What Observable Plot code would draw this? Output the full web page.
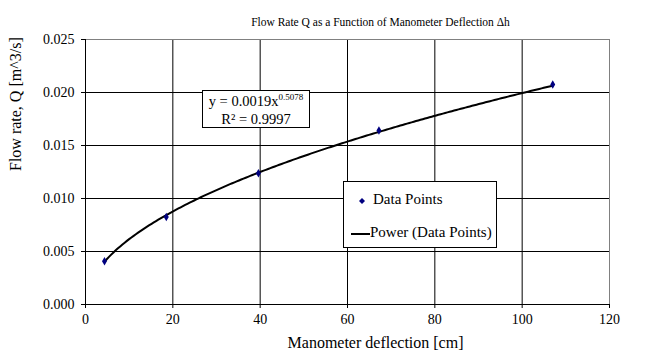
<!DOCTYPE html>
<html>
<head>
<meta charset="utf-8">
<script src="https://cdn.jsdelivr.net/npm/d3@7"></script>
<script src="https://cdn.jsdelivr.net/npm/@observablehq/plot@0.6"></script>
<style>
  html, body { margin: 0; padding: 0; background: #fff; }
  #wrap { position: relative; width: 654px; height: 364px; font-family: "Liberation Serif", serif; }
  #wrap svg, #wrap svg text { font-family: "Liberation Serif", serif !important; }
  .box { position: absolute; background: #fff; border: 1px solid #000; box-sizing: border-box; color: #000; }
  #eq { left: 202px; top: 90px; width: 108px; height: 38px; font-size: 14.5px; text-align: center; line-height: 16px; padding-top: 2px; }
  #eq sup { font-size: 9px; vertical-align: 0; position: relative; top: -6px; }
  #legend { left: 343px; top: 181px; width: 154px; height: 67px; font-size: 15px; }
  .row { position: absolute; left: 0; height: 16px; line-height: 16px; white-space: nowrap; }
</style>
</head>
<body>
<div id="wrap"></div>
<script>
// ---- data ----
const deflection = [4.35, 18.5, 39.6, 67.2, 107.0];        // cm
const flowRate   = [0.00408, 0.00826, 0.01239, 0.01642, 0.02075]; // m^3/s
const xTicks = [0, 20, 40, 60, 80, 100, 120];
const yTicks = [0, 0.005, 0.010, 0.015, 0.020, 0.025];
const titleText = "Flow Rate Q as a Function of Manometer Deflection \u0394h";
const xLabel = "Manometer deflection [cm]";
const yLabel = "Flow rate, Q [m^3/s]";
const eqLine1 = "y = 0.0019x";
const eqExp = "0.5078";
const eqLine2 = "R\u00B2 = 0.9997";
const legendLabels = ["Data Points", "Power (Data Points)"];

const points = deflection.map((d, i) => ({x: d, y: flowRate[i]}));

// power trendline fitted to the data points (least squares in log space)
const lx = deflection.map(Math.log), ly = flowRate.map(Math.log);
const mx = d3.mean(lx), my = d3.mean(ly);
const b = d3.sum(lx, (v, i) => (v - mx) * (ly[i] - my)) / d3.sum(lx, v => (v - mx) ** 2);
const a = Math.exp(my - b * mx);
const [x0, x1] = d3.extent(deflection);
const trend = d3.range(0, 201).map(i => {
  const x = x0 + (x1 - x0) * i / 200;
  return {x, y: a * Math.pow(x, b)};
});

const plot = Plot.plot({
  width: 654,
  height: 364,
  marginLeft: 85,
  marginRight: 45,
  marginTop: 39,
  marginBottom: 60,
  style: {fontSize: "13px", background: "#fff", color: "#000"},
  x: {domain: [0, 120], ticks: xTicks},
  y: {domain: [0, 0.025], ticks: yTicks},
  marks: [
    Plot.ruleX(xTicks.slice(1, -1), {stroke: "#000", strokeWidth: 1}),
    Plot.ruleY(yTicks.slice(1, -1), {stroke: "#000", strokeWidth: 1}),
    Plot.ruleX([120], {stroke: "#808080", strokeWidth: 1}),
    Plot.ruleY([0.025], {stroke: "#808080", strokeWidth: 1}),
    Plot.ruleX([0], {stroke: "#000", strokeWidth: 1}),
    Plot.ruleY([0], {stroke: "#000", strokeWidth: 1}),
    Plot.axisX({ticks: xTicks, tickSize: 4, tickPadding: 6, tickFormat: d3.format("d"), label: null, fontSize: 14}),
    Plot.axisY({ticks: yTicks, tickSize: 4, tickPadding: 7, tickFormat: d3.format(".3f"), label: null, fontSize: 14}),
    Plot.line(trend, {x: "x", y: "y", stroke: "#000", strokeWidth: 2}),
    Plot.dot(points, {x: "x", y: "y", symbol: "diamond", r: 2.6, fill: "#000080", stroke: "none"}),
    Plot.text([titleText], {frameAnchor: "top", dy: -22, dx: 33, fontSize: 11.5, fill: "#000"}),
    Plot.text([xLabel], {frameAnchor: "bottom", dy: 43, dx: 28, fontSize: 16, fill: "#000"}),
    Plot.text([yLabel], {frameAnchor: "left", dx: -70, dy: -1, rotate: -90, fontSize: 16, fill: "#000"})
  ]
});

const wrap = document.getElementById("wrap");
wrap.appendChild(plot);

// equation box
const eq = document.createElement("div");
eq.className = "box"; eq.id = "eq";
eq.innerHTML = `${eqLine1}<sup>${eqExp}</sup><br>${eqLine2}`;
wrap.appendChild(eq);

// legend box
const lg = document.createElement("div");
lg.className = "box"; lg.id = "legend";
const r1 = document.createElement("div");
r1.className = "row"; r1.style.top = "9px"; r1.style.left = "12px";
r1.innerHTML = `<svg width="12" height="10" style="vertical-align:middle;margin-right:5px"><path d="M6,2 L9,5 L6,8 L3,5 Z" fill="#000080"/></svg>${legendLabels[0]}`;
const r2 = document.createElement("div");
r2.className = "row"; r2.style.top = "42px"; r2.style.left = "7px";
r2.innerHTML = `<svg width="19" height="10" style="vertical-align:middle"><line x1="0" y1="5" x2="19" y2="5" stroke="#000" stroke-width="2"/></svg>${legendLabels[1]}`;
lg.appendChild(r1); lg.appendChild(r2);
wrap.appendChild(lg);
</script>
</body>
</html>
